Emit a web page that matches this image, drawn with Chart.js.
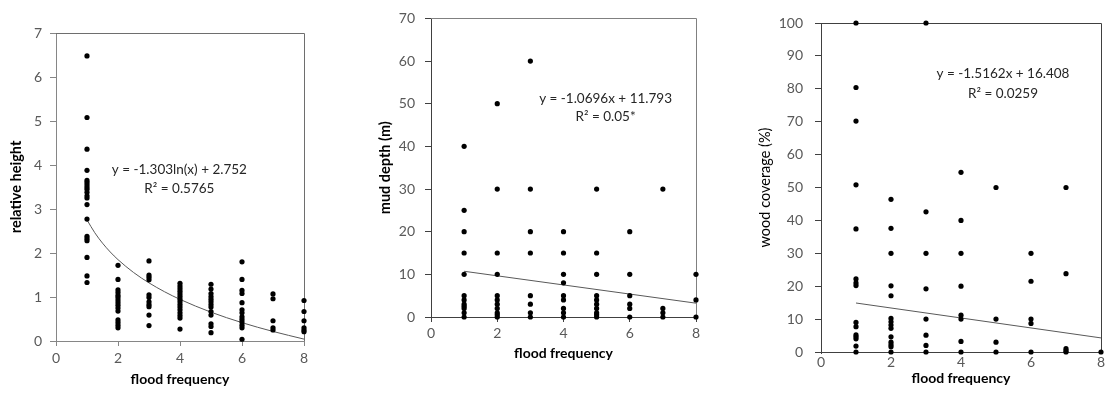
<!DOCTYPE html>
<html>
<head>
<meta charset="utf-8">
<script src="https://cdn.jsdelivr.net/npm/chart.js@4.4.0/dist/chart.umd.min.js"></script>
<style>
  html, body { margin: 0; padding: 0; background: #fff; overflow: hidden; width: 1105px; height: 397px; }
  canvas { position: absolute; top: 0; }
</style>
</head>
<body>
<canvas id="heightChart" width="370" height="397" style="left:0"></canvas>
<canvas id="mudChart" width="370" height="397" style="left:370px"></canvas>
<canvas id="woodChart" width="400" height="397" style="left:735px"></canvas>
<script>
// x categories (flood frequency) - each values array below is grouped by these
const floodFreq = [1, 2, 3, 4, 5, 6, 7, 8];

// relative height, one list per flood frequency
const heightValues = [
  [6.48, 5.08, 4.36, 3.88, 3.65, 3.6, 3.55, 3.5, 3.45, 3.38, 3.3, 3.25, 3.1, 2.77, 2.38, 2.33, 2.28, 1.9, 1.48, 1.33],
  [1.72, 1.4, 1.16, 1.1, 1.04, 0.99, 0.93, 0.87, 0.81, 0.75, 0.68, 0.48, 0.42, 0.36, 0.3],
  [1.82, 1.5, 1.45, 1.39, 1.05, 0.99, 0.89, 0.83, 0.78, 0.59, 0.35],
  [1.31, 1.25, 1.19, 1.13, 1.07, 1.01, 0.95, 0.89, 0.83, 0.77, 0.71, 0.64, 0.58, 0.52, 0.27],
  [1.29, 1.18, 1.08, 1.01, 0.95, 0.89, 0.83, 0.77, 0.67, 0.59, 0.39, 0.33, 0.19],
  [1.8, 1.4, 1.15, 1.08, 0.87, 0.71, 0.64, 0.55, 0.49, 0.43, 0.36, 0.3, 0.04],
  [1.07, 0.96, 0.46, 0.3, 0.25],
  [0.92, 0.67, 0.46, 0.3, 0.25, 0.21]
];

// mud depth (m)
const mudValues = [
  [40, 25, 20, 15, 10, 5, 4, 3, 2.5, 2, 1, 0],
  [50, 30, 15, 10, 5, 4, 3, 2, 1, 0.5, 0],
  [60, 30, 20, 15, 5, 3, 1, 0],
  [20, 15, 10, 8, 5, 4, 2, 1, 0],
  [30, 15, 10, 5, 4, 3, 2, 1, 0.5, 0],
  [20, 10, 5, 3, 2, 0],
  [30, 2, 1, 0],
  [10, 4, 0]
];

// wood coverage (%)
const woodValues = [
  [100, 80.4, 70.2, 50.8, 37.4, 22.2, 21, 20.2, 9, 7.7, 5.2, 4.6, 4, 1.8, 0],
  [46.4, 37.6, 30, 20.1, 17.1, 10.2, 9.2, 8.2, 7.2, 4.6, 3, 2.2, 1.6, 0],
  [100, 42.6, 30, 19.2, 10, 5.1, 2, 0],
  [54.6, 40, 30, 20, 11.2, 10, 3.2, 0],
  [50, 10, 3, 0],
  [30, 21.5, 10, 8.7, 0],
  [50, 23.8, 1, 0.4, 0],
  [0]
];

// trendlines
const heightTrendX = [1, 1.25, 1.5, 1.75, 2, 2.5, 3, 3.5, 4, 5, 6, 7, 8];
const heightTrendY = [2.752, 2.461, 2.224, 2.023, 1.849, 1.558, 1.321, 1.12, 0.946, 0.655, 0.417, 0.217, 0.043];
const mudTrendX = [1, 8];
const mudTrendY = [10.72, 3.24];
const woodTrendX = [1, 8];
const woodTrendY = [14.89, 4.28];

// equation labels
const heightEquation = ['y = -1.303ln(x) + 2.752', 'R\u00b2 = 0.5765'];
const mudEquation = ['y = -1.0696x + 11.793', 'R\u00b2 = 0.05*'];
const woodEquation = ['y = -1.5162x + 16.408', 'R\u00b2 = 0.0259'];

const xTicks = [0, 2, 4, 6, 8];

Chart.defaults.font.family = 'Lato, "Open Sans", sans-serif';
Chart.defaults.animation = false;

function toPoints(groups) {
    const pts = [];
    groups.forEach((vals, i) => {
        vals.forEach(v => pts.push({ x: floodFreq[i], y: v }));
    });
    return pts;
}

function toLine(xs, ys) {
    return xs.map((x, i) => ({ x: x, y: ys[i] }));
}

// equation text, placed in data coordinates
const equationPlugin = {
    id: 'equation',
    afterDatasetsDraw(chart, args, opts) {
        const { ctx, scales: { x, y } } = chart;
        ctx.save();
        ctx.font = opts.size + 'px Lato, sans-serif';
        ctx.fillStyle = '#262626';
        ctx.textAlign = 'center';
        ctx.textBaseline = 'middle';
        opts.lines.forEach((line, i) => {
            ctx.fillText(line, x.getPixelForValue(opts.at[0]), y.getPixelForValue(opts.at[1]) + i * opts.gap);
        });
        ctx.restore();
    }
};

// top and right frame of the plot area
const framePlugin = {
    id: 'frame',
    beforeDatasetsDraw(chart, args, opts) {
        const { ctx, chartArea: a } = chart;
        const top = Math.round(a.top) + 0.5;
        const right = Math.round(a.right) + 0.5;
        ctx.save();
        ctx.strokeStyle = opts.color;
        ctx.lineWidth = 1;
        ctx.beginPath();
        ctx.moveTo(a.left, top);
        ctx.lineTo(right, top);
        ctx.lineTo(right, a.bottom);
        ctx.stroke();
        ctx.restore();
    }
};

function makeChart(id, cfg) {
    const ctx = document.getElementById(id).getContext('2d');
    return new Chart(ctx, {
        type: 'scatter',
        data: {
            datasets: [{
                data: toPoints(cfg.values),
                backgroundColor: '#000',
                borderColor: '#000',
                pointRadius: 2.6,
                pointBorderWidth: 0,
                clip: false
            }, {
                type: 'line',
                data: toLine(cfg.trendX, cfg.trendY),
                borderColor: '#595959',
                borderWidth: 1,
                pointRadius: 0,
                fill: false,
                cubicInterpolationMode: 'monotone',
                clip: false
            }]
        },
        options: {
            responsive: false,
            layout: { padding: cfg.padding },
            plugins: {
                legend: { display: false },
                tooltip: { enabled: false },
                equation: cfg.equation,
                frame: { color: cfg.frameColor }
            },
            scales: {
                x: {
                    type: 'linear',
                    min: 0,
                    max: 8,
                    afterBuildTicks: s => { s.ticks = xTicks.map(v => ({ value: v })); },
                    afterFit: s => { s.height = cfg.xHeight; },
                    grid: { display: true, drawOnChartArea: false, drawTicks: true, tickLength: cfg.xTickLen, color: cfg.axisColor },
                    border: { color: cfg.axisColor },
                    ticks: { color: '#595959', font: { size: 14 }, padding: cfg.xTickPad, maxRotation: 0 },
                    title: { display: true, text: 'flood frequency', color: '#000', font: { size: 14, weight: 'bold' }, padding: { top: 0, bottom: cfg.xTitlePad } }
                },
                y: {
                    type: 'linear',
                    min: 0,
                    max: cfg.yMax,
                    afterFit: s => { s.width = cfg.yWidth; },
                    grid: { display: true, drawOnChartArea: false, drawTicks: true, tickLength: 6, color: cfg.axisColor },
                    border: { color: cfg.axisColor },
                    ticks: { stepSize: cfg.yStep, color: '#595959', font: { size: 14 }, padding: cfg.yTickPad },
                    title: { display: true, text: cfg.yTitle, color: '#000', font: { size: 14.5, weight: cfg.yTitleWeight }, padding: { top: cfg.yTitlePad, bottom: 0 } }
                }
            }
        },
        plugins: [equationPlugin, framePlugin]
    });
}

makeChart('heightChart', {
    values: heightValues, trendX: heightTrendX, trendY: heightTrendY,
    yMax: 7, yStep: 1, yTitle: 'relative height', yTitleWeight: 'bold',
    padding: { left: 0, right: 66, top: 33, bottom: 0 },
    yWidth: 56, xHeight: 56, xTickLen: 5, xTickPad: 3.6, xTitlePad: 9.6, yTickPad: 8, yTitlePad: 7.3,
    axisColor: '#868686', frameColor: '#6e6e6e',
    equation: { lines: heightEquation, at: [3.98, 3.9], gap: 19, size: 13.5 }
});

makeChart('mudChart', {
    values: mudValues, trendX: mudTrendX, trendY: mudTrendY,
    yMax: 70, yStep: 10, yTitle: 'mud depth (m)', yTitleWeight: 'bold',
    padding: { left: 0, right: 44, top: 18, bottom: 30 },
    yWidth: 61, xHeight: 50, xTickLen: 5, xTickPad: 2.6, xTitlePad: 5.3, yTickPad: 10, yTitlePad: 7,
    axisColor: '#404040', frameColor: '#808080',
    equation: { lines: mudEquation, at: [5.27, 51.1], gap: 18, size: 13.5 }
});

makeChart('woodChart', {
    values: woodValues, trendX: woodTrendX, trendY: woodTrendY,
    yMax: 100, yStep: 10, yTitle: 'wood coverage (%)', yTitleWeight: 'normal',
    padding: { left: 0, right: 34, top: 23, bottom: 0 },
    yWidth: 86, xHeight: 45, xTickLen: 2, xTickPad: 0, xTitlePad: 10.6, yTickPad: 12, yTitlePad: 21.3,
    axisColor: '#404040', frameColor: '#404040',
    equation: { lines: woodEquation, at: [5.2, 84.6], gap: 20, size: 13.5 }
});
</script>
</body>
</html>
